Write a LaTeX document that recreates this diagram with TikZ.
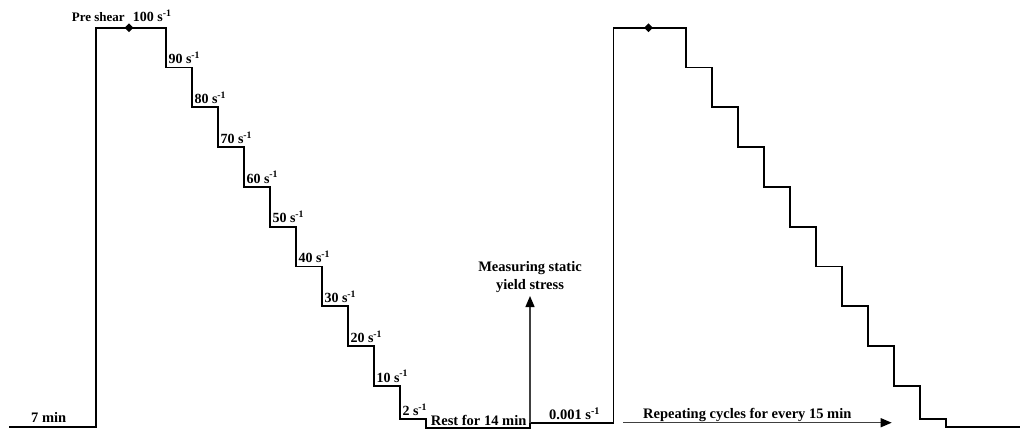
\documentclass[tikz,border=0pt]{standalone}
\usepackage{fontspec}
\setmainfont{Liberation Serif}
\usetikzlibrary{arrows.meta,shapes.geometric}
\begin{document}
\begin{tikzpicture}[
  x=1pt, y=-1pt,
  profile/.style={line width=1.7pt, line join=miter},
  lbl/.style={font=\bfseries\fontsize{14.5}{18}\selectfont, inner sep=0pt, anchor=base west},
  rate/.style={lbl, font=\bfseries\fontsize{14}{16}\selectfont},
  peak/.style={diamond, fill, inner sep=0pt, minimum width=9pt, minimum height=9pt},
  hint/.style={-{Triangle[length=11pt,width=9pt,color=black]}, line width=1.3pt, black!75},
]
  \useasboundingbox (0,0) rectangle (1020,431);

  % shear rate profile, two cycles
  \draw[profile] (9,426.7) -- (95.7,426.7) -- (95.7,27.7) -- (165.7,27.7)
    -- ++(0,39.8) -- ++(26,0) -- ++(0,39.8) -- ++(26,0) -- ++(0,39.8) -- ++(26,0)
    -- ++(0,39.8) -- ++(26,0) -- ++(0,39.8) -- ++(26,0) -- ++(0,39.8) -- ++(26,0)
    -- ++(0,39.8) -- ++(26,0) -- ++(0,39.8) -- ++(26,0) -- ++(0,39.8) -- ++(26,0)
    -- (399.7,419.3) -- (425.7,419.3) -- (425.7,427.7) -- (530,427.7)
    -- (530,422.7) -- (613.5,422.7) -- (613.5,27.7) -- (685.7,27.7)
    -- ++(0,39.8) -- ++(26,0) -- ++(0,39.8) -- ++(26,0) -- ++(0,39.8) -- ++(26,0)
    -- ++(0,39.8) -- ++(26,0) -- ++(0,39.8) -- ++(26,0) -- ++(0,39.8) -- ++(26,0)
    -- ++(0,39.8) -- ++(26,0) -- ++(0,39.8) -- ++(26,0) -- ++(0,39.8) -- ++(26,0)
    -- (919.7,419.3) -- (945.7,419.3) -- (945.7,427) -- (1020,427);

  \node[peak] (d1) at (129,27.7) {};
  \node[peak] (d2) at (648.5,27.7) {};

  \node[lbl, font=\bfseries\fontsize{13}{15}\selectfont] (pre) at (71.7,21) {Pre shear};
  \node[rate] (r100) at (132.7,21.7) {100 s\textsuperscript{-1}};
  \node[rate] (r90) at (168.3,63.7)  {90 s\textsuperscript{-1}};
  \node[rate] (r80) at (194.3,103.5) {80 s\textsuperscript{-1}};
  \node[rate] (r70) at (220.3,143.3) {70 s\textsuperscript{-1}};
  \node[rate] (r60) at (246.3,183.1) {60 s\textsuperscript{-1}};
  \node[rate] (r50) at (272.3,222.9) {50 s\textsuperscript{-1}};
  \node[rate] (r40) at (298.3,262.7) {40 s\textsuperscript{-1}};
  \node[rate] (r30) at (324.3,302.5) {30 s\textsuperscript{-1}};
  \node[rate] (r20) at (350.3,342.3) {20 s\textsuperscript{-1}};
  \node[rate] (r10) at (376.3,382.1) {10 s\textsuperscript{-1}};
  \node[rate] (r2)  at (402.3,415.5) {2 s\textsuperscript{-1}};

  \node[lbl] (pause)  at (31,422)      {7 min};
  \node[lbl] (rest)   at (430.7,425)   {Rest for 14 min};
  \node[lbl] (low)    at (549,419.7)   {0.001 s\textsuperscript{-1}};
  \node[lbl] (cycles) at (643,418)     {Repeating cycles for every 15 min};
  \node[lbl, anchor=south, align=center] (yield) at (530,293) {Measuring static\\yield stress};

  \coordinate (ys) at (530,422.7);
  \coordinate (ye) at (530,296);
  \coordinate (cs) at (623,422.7);
  \coordinate (ce) at (891.7,422.7);
  \draw[hint] (ys) -- (ye);
  \draw[hint] (cs) -- (ce);
\end{tikzpicture}
\end{document}
